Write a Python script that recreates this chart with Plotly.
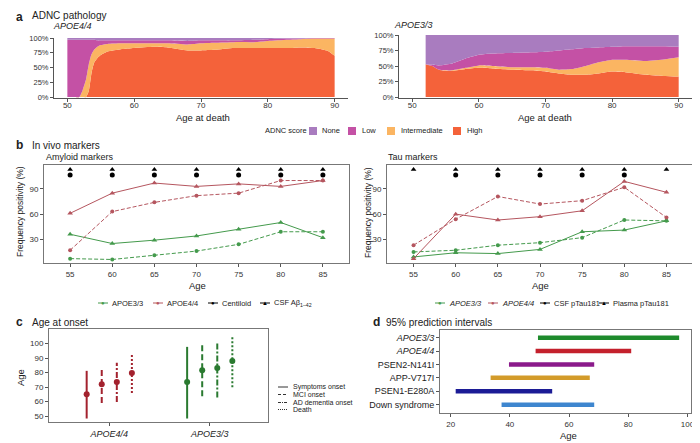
import plotly.graph_objects as go

W, H = 700, 443
OFF = 8  # page body margin offset compensation
FONT = "Liberation Sans, Arial, sans-serif"

# ---------------- Panel a data (ADNC pathology, % of cases) ----------------
a44_age = [50, 51, 51.8, 52.3, 52.8, 53.2, 53.6, 54, 54.5, 55, 56, 58, 60, 63, 65, 68, 70, 72, 75, 78, 80, 83, 85, 87, 89, 90]
a44_high = [0, 0, 0, 0, 0, 10, 40, 58, 66, 71, 77, 81, 83, 85, 84, 79, 79, 80, 83, 83, 83, 83, 84, 83, 78, 70]
a44_int = [0, 0, 0, 12, 30, 45, 32, 22, 19, 17, 13, 10, 8, 6, 7, 10, 12, 12, 10, 10, 12, 14, 14, 16, 21, 29]
a44_low = [97, 97, 97, 85, 67, 42, 25, 17, 11, 8, 6, 5, 5, 5, 5, 6, 5, 4, 3, 4, 3, 2, 1, 1, 1, 1]
a44_none = [3, 3, 3, 3, 3, 3, 3, 3, 4, 4, 4, 4, 4, 4, 4, 5, 4, 4, 4, 3, 2, 1, 1, 0, 0, 0]

a33_age = [52, 53, 54, 56, 58, 60, 62, 65, 68, 70, 72, 74, 76, 78, 80, 82, 85, 88, 90]
a33_high = [53, 50, 44, 42, 45, 47, 46, 44, 43, 41, 38, 36, 36, 38, 41, 40, 36, 34, 33]
a33_int = [0, 0, 0, 1, 2, 4, 4, 4, 5, 6, 6, 9, 14, 18, 19, 20, 22, 27, 31]
a33_low = [0, 2, 7, 11, 15, 17, 20, 23, 24, 26, 31, 32, 29, 24, 21, 22, 24, 21, 17]
a33_none = [47, 48, 49, 46, 38, 32, 30, 29, 28, 27, 25, 23, 21, 20, 19, 18, 18, 18, 19]

adnc_names = ["None", "Low", "Intermediate", "High"]
adnc_colors = {"None": "#A97CBF", "Low": "#C451A5", "Intermediate": "#FBB562", "High": "#F4623A"}
pct_ticks = [0, 25, 50, 75, 100]
pct_labels = ["0%", "25%", "50%", "75%", "100%"]

# ---------------- Panel b data (frequency positivity, %) ----------------
ages_b = [55, 60, 65, 70, 75, 80, 85]
amy_e33_csf = [36, 25, 29, 34, 42, 50, 32]
amy_e33_cl = [7, 6, 11, 16, 24, 39, 39]
amy_e44_csf = [61, 85, 97, 93, 96, 93, 100]
amy_e44_cl = [17, 63, 74, 82, 85, 100, 100]
tau_e33_plasma = [9, 14, 13, 18, 39, 41, 52]
tau_e33_csf = [15, 17, 23, 26, 32, 53, 52]
tau_e44_plasma = [7, 60, 53, 57, 64, 99, 86]
tau_e44_csf = [23, 54, 81, 72, 76, 92, 56]
amy_sig_tri = [55, 60, 65, 70, 75, 80, 85]
amy_sig_dot = [55, 60, 65, 70, 75, 80, 85]
tau_sig_tri = [55, 60, 65, 70, 75, 80, 85]
tau_sig_dot = [60, 65, 70, 75, 80]
SIG_TRI_Y = 113
SIG_DOT_Y = 106.5

# ---------------- Panel c data (age at onset) ----------------
onset_groups = ["APOE4/4", "APOE3/3"]
onset_events = ["Symptoms onset", "MCI onset", "AD dementia onset", "Death"]
e44_mid = [65.1, 72.0, 73.6, 79.8]
e44_lo = [48.4, 59.1, 59.8, 66.0]
e44_hi = [81.2, 83.5, 86.7, 93.5]
e33_mid = [73.6, 81.6, 83.2, 88.0]
e33_lo = [48.4, 63.7, 62.8, 70.0]
e33_hi = [97.7, 100.0, 101.1, 105.7]

# ---------------- Panel d data (95% prediction intervals) ----------------
pi_groups = ["APOE3/3", "APOE4/4", "PSEN2-N141I", "APP-V717I", "PSEN1-E280A", "Down syndrome"]
pi_lo = [49.5, 48.7, 39.7, 33.5, 21.7, 37.2]
pi_hi = [97.2, 81.0, 68.5, 67.0, 54.3, 68.5]
pi_colors = ["#1E8B2C", "#C4202C", "#8B1A8B", "#D39B2A", "#1C1C96", "#3E86CF"]

GREEN_B = "#449A4C"
RED_B = "#B5565F"
GREEN_C = "#2A7A30"
RED_C = "#A3222E"


def PX(x):
    return (x - OFF) / W


def PY(y):
    return 1 - (y - OFF) / H


def dx(a, b):
    return [PX(a), PX(b)]


def dy(top, bot):
    return [PY(bot), PY(top)]


fig = go.Figure()

# ---- Panel a traces
for xa, ya, ages, layers, grp in [
    ("x", "y", a44_age, {"High": a44_high, "Intermediate": a44_int, "Low": a44_low, "None": a44_none}, "a44"),
    ("x2", "y2", a33_age, {"High": a33_high, "Intermediate": a33_int, "Low": a33_low, "None": a33_none}, "a33"),
]:
    for nm in ["High", "Intermediate", "Low", "None"]:
        fig.add_trace(go.Scatter(
            x=ages, y=layers[nm], stackgroup=grp, mode="lines",
            line=dict(width=0, shape="spline", smoothing=0.5),
            fillcolor=adnc_colors[nm], xaxis=xa, yaxis=ya,
            showlegend=False, hoverinfo="skip", name=nm))

# ---- Panel b traces


def add_line(xa, ya, yv, color, dash, symbol, size):
    fig.add_trace(go.Scatter(
        x=ages_b, y=yv, mode="lines+markers",
        line=dict(color=color, width=1, dash=dash),
        marker=dict(symbol=symbol, size=size, color=color),
        xaxis=xa, yaxis=ya, showlegend=False, hoverinfo="skip"))


add_line("x3", "y3", amy_e33_cl, GREEN_B, "4px,2px", "circle", 4)
add_line("x3", "y3", amy_e33_csf, GREEN_B, "solid", "triangle-up", 5)
add_line("x3", "y3", amy_e44_cl, RED_B, "4px,2px", "circle", 4)
add_line("x3", "y3", amy_e44_csf, RED_B, "solid", "triangle-up", 5)
add_line("x4", "y4", tau_e33_csf, GREEN_B, "4px,2px", "circle", 4)
add_line("x4", "y4", tau_e33_plasma, GREEN_B, "solid", "triangle-up", 5)
add_line("x4", "y4", tau_e44_csf, RED_B, "4px,2px", "circle", 4)
add_line("x4", "y4", tau_e44_plasma, RED_B, "solid", "triangle-up", 5)

for xa, ya, tri, dot in [("x3", "y3", amy_sig_tri, amy_sig_dot), ("x4", "y4", tau_sig_tri, tau_sig_dot)]:
    fig.add_trace(go.Scatter(x=tri, y=[SIG_TRI_Y] * len(tri), mode="markers",
                             marker=dict(symbol="triangle-up", size=5, color="black"),
                             xaxis=xa, yaxis=ya, showlegend=False, hoverinfo="skip"))
    fig.add_trace(go.Scatter(x=dot, y=[SIG_DOT_Y] * len(dot), mode="markers",
                             marker=dict(symbol="circle", size=5, color="black"),
                             xaxis=xa, yaxis=ya, showlegend=False, hoverinfo="skip"))

# ---- Panel c traces
dodge = [-0.225, -0.075, 0.075, 0.225]
dashes_c = ["solid", "6px,3px", "6px,2px,2px,2px", "2px,2px"]
for gi, (mid, lo, hi, col) in enumerate([(e44_mid, e44_lo, e44_hi, RED_C), (e33_mid, e33_lo, e33_hi, GREEN_C)]):
    for j in range(4):
        pos = gi + 1 + dodge[j]
        fig.add_trace(go.Scatter(x=[pos, pos], y=[lo[j], hi[j]], mode="lines",
                                 line=dict(color=col, width=2, dash=dashes_c[j]),
                                 xaxis="x5", yaxis="y5", showlegend=False, hoverinfo="skip"))
        fig.add_trace(go.Scatter(x=[pos], y=[mid[j]], mode="markers",
                                 marker=dict(color=col, size=6),
                                 xaxis="x5", yaxis="y5", showlegend=False, hoverinfo="skip"))

# ---- Panel d traces
for g, lo, hi, col in zip(pi_groups, pi_lo, pi_hi, pi_colors):
    fig.add_trace(go.Scatter(x=[lo, hi], y=[g, g], mode="lines",
                             line=dict(color=col, width=4.5),
                             xaxis="x6", yaxis="y6", showlegend=False, hoverinfo="skip"))

# ---------------- Axes ----------------
base = dict(showgrid=False, zeroline=False, showline=True, linecolor="#555", linewidth=1,
            ticks="outside", ticklen=3, tickcolor="#555", tickwidth=1,
            tickfont=dict(size=8, color="#333", family=FONT), automargin=False, fixedrange=True)
box = dict(base, mirror=True, linecolor="#777")

fig.update_layout(
    xaxis=dict(base, domain=dx(54, 348), range=[48, 92], tickvals=[50, 60, 70, 80, 90], anchor="y",
               ticklabelstandoff=-4),
    yaxis=dict(base, domain=dy(38, 98), range=[-1.7, 100], tickmode="array", tickvals=pct_ticks,
               ticktext=pct_labels, anchor="x", tickfont=dict(size=7.5, color="#333", family=FONT)),
    xaxis2=dict(base, domain=dx(399, 692), range=[48, 92], tickvals=[50, 60, 70, 80, 90], anchor="y2",
                ticklabelstandoff=-4),
    yaxis2=dict(base, domain=dy(35, 98), range=[-1.6, 100], tickmode="array", tickvals=pct_ticks,
                ticktext=pct_labels, anchor="x2", tickfont=dict(size=7.5, color="#333", family=FONT)),
    xaxis3=dict(box, domain=dx(44, 349), range=[51.9, 88.1], tickvals=ages_b, anchor="y3"),
    yaxis3=dict(box, domain=dy(165, 263), range=[1.8, 118.5], tickvals=[30, 60, 90], anchor="x3"),
    xaxis4=dict(box, domain=dx(387, 693), range=[51.85, 88.15], tickvals=ages_b, anchor="y4"),
    yaxis4=dict(box, domain=dy(165, 263), range=[1.8, 118.5], tickvals=[30, 60, 90], anchor="x4"),
    xaxis5=dict(box, domain=dx(49, 268), range=[0.4, 2.58], tickmode="array", tickvals=[1, 2],
                ticktext=["<i>APOE4/4</i>", "<i>APOE3/3</i>"], anchor="y5",
                tickfont=dict(size=9, color="#222", family=FONT)),
    yaxis5=dict(box, domain=dy(329, 422), range=[46, 110], tickvals=[50, 60, 70, 80, 90, 100], anchor="x5"),
    xaxis6=dict(box, domain=dx(440, 691), range=[16.4, 101.2], tickvals=[20, 40, 60, 80, 100], anchor="y6"),
    yaxis6=dict(box, domain=dy(330, 413), type="category", categoryorder="array",
                categoryarray=list(reversed(pi_groups)), range=[-0.62, 5.57],
                tickmode="array", tickvals=pi_groups,
                ticktext=["<i>APOE3/3</i>", "<i>APOE4/4</i>"] + pi_groups[2:], anchor="x6",
                tickfont=dict(size=9, color="#222", family=FONT)),
)

# ---------------- Annotations ----------------
anns = []


def ann(text, x, y, size=8, xanchor="left", yanchor="middle", color="#222", angle=0):
    anns.append(dict(text=text, x=PX(x), y=PY(y), xref="paper", yref="paper", showarrow=False,
                     xanchor=xanchor, yanchor=yanchor, textangle=angle,
                     font=dict(size=size, color=color, family=FONT)))


# panel titles
ann("<b>a</b>", 14, 8, size=12, yanchor="top")
ann("ADNC pathology", 30, 8.5, size=10, yanchor="top")
ann("<i>APOE4/4</i>", 51, 26, size=9)
ann("<i>APOE3/3</i>", 392, 25, size=9)
ann("Age at death", 203, 117, size=9.5, xanchor="center")
ann("Age at death", 545, 117, size=9.5, xanchor="center")

ann("<b>b</b>", 14, 145, size=12)
ann("In vivo markers", 30, 145, size=10)
ann("Amyloid markers", 44, 157, size=9)
ann("Tau markers", 386, 157, size=9)
ann("Age", 197, 285, size=9.5, xanchor="center")
ann("Age", 540, 285, size=9.5, xanchor="center")
ann("Frequency positivity (%)", 20, 212, size=8.5, xanchor="center", angle=-90)
ann("Frequency positivity (%)", 368, 212, size=8.5, xanchor="center", angle=-90)

ann("<b>c</b>", 14, 322, size=12)
ann("Age at onset", 30, 322, size=10)
ann("Age", 20, 378, size=9.5, xanchor="center", angle=-90)

ann("<b>d</b>", 371, 322, size=12)
ann("95% prediction intervals", 384, 322, size=10)
ann("Age", 568, 435, size=9.5, xanchor="center")

shapes = []

# ADNC legend
ann("ADNC score", 263, 131, size=7.5)
for nm, x0, tx in [("None", 309, 320), ("Low", 348, 360), ("Intermediate", 387, 399), ("High", 453, 465)]:
    shapes.append(dict(type="rect", xref="paper", yref="paper", x0=PX(x0), x1=PX(x0 + 8),
                       y0=PY(135), y1=PY(127), fillcolor=adnc_colors[nm], line=dict(width=0)))
    ann(nm, tx, 131, size=7.5)

# panel b legends


def leg_item(xc, y, color, glyph, text, gsize):
    shapes.append(dict(type="line", xref="paper", yref="paper", x0=PX(xc - 5), x1=PX(xc + 5),
                       y0=PY(y), y1=PY(y), line=dict(color=color, width=1)))
    ann(glyph, xc, y, size=gsize, xanchor="center", color=color)
    ann(text, xc + 7, y, size=7.5)


leg_item(103, 303, GREEN_B, "●", "APOE3/3", 6)
leg_item(158, 303, RED_B, "●", "APOE4/4", 6)
leg_item(213, 303, "black", "●", "Centiloid", 6)
leg_item(265, 303, "black", "▲", "CSF Aβ<sub>1–42</sub>", 6)
leg_item(440, 303, GREEN_B, "●", "<i>APOE3/3</i>", 6)
leg_item(493, 303, RED_B, "●", "<i>APOE4/4</i>", 6)
leg_item(545, 303, "black", "●", "CSF pTau181", 6)
leg_item(604, 303, "black", "▲", "Plasma pTau181", 6)

# panel c legend
for ev, y, d in zip(onset_events, [387, 394.5, 402.5, 409.5], ["solid", "3px,2px", "3px,1px,1px,1px", "1px,1px"]):
    shapes.append(dict(type="line", xref="paper", yref="paper", x0=PX(278), x1=PX(288),
                       y0=PY(y), y1=PY(y), line=dict(color="#333", width=1, dash=d)))
    ann(ev, 291, y, size=7)

fig.update_layout(
    width=W, height=H, margin=dict(l=0, r=0, t=0, b=0),
    paper_bgcolor="white", plot_bgcolor="white",
    font=dict(family=FONT, size=8, color="#222"),
    showlegend=False, annotations=anns, shapes=shapes,
)

fig.write_html("out.html")
